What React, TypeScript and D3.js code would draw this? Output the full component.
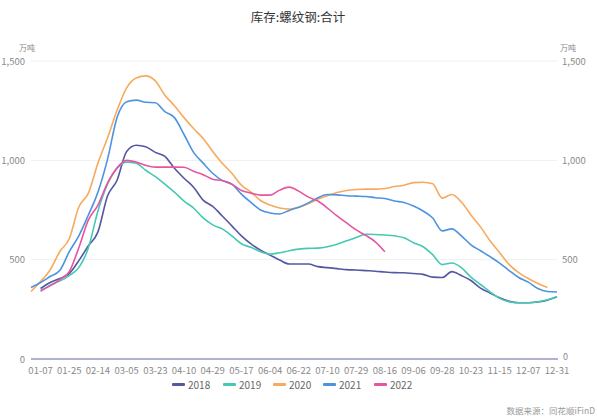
import React from "react";
import * as d3 from "d3";

const categories = [
  "01-01","01-07","01-13","01-19","01-25","02-01","02-07","02-14","02-20","02-27",
  "03-05","03-11","03-17","03-23","03-29","04-04","04-10","04-17","04-23","04-29",
  "05-05","05-11","05-17","05-23","05-29","06-04","06-10","06-16","06-22","06-28",
  "07-04","07-10","07-16","07-23","07-29","08-04","08-10","08-16","08-23","08-30",
  "09-06","09-13","09-21","09-28","10-06","10-15","10-23","10-31","11-08","11-15",
  "11-22","11-30","12-07","12-15","12-23","12-31",
];
const tickLabels = [
  "01-07","01-25","02-14","03-05","03-23","04-10","04-29","05-17","06-04","06-22",
  "07-10","07-29","08-16","09-06","09-28","10-23","11-15","12-07","12-31",
];
const yTicks = [0, 500, 1000, 1500];

type V = number | null;
const s2018: V[] = [
  null,355,385,405,430,495,570,640,820,900,
  1045,1076,1068,1040,1020,960,910,865,800,768,
  720,670,620,580,548,523,498,478,478,478,
  465,460,455,450,448,445,442,438,435,434,
  430,426,412,410,440,420,395,357,332,308,
  290,283,283,287,296,313,
];
const s2019: V[] = [
  null,340,372,392,420,460,560,745,880,960,
  991,985,950,918,880,840,795,760,710,675,
  655,620,580,562,540,528,535,545,553,557,
  558,565,578,595,612,628,627,624,620,610,
  585,565,525,475,483,460,412,375,338,305,
  288,283,283,288,298,315,
];
const s2020: V[] = [
  340,390,448,540,605,765,835,986,1112,1252,
  1365,1415,1425,1400,1328,1275,1215,1160,1110,1045,
  985,935,875,840,798,775,760,755,764,782,
  805,822,838,848,853,855,855,858,868,875,
  888,890,882,810,828,790,725,665,595,535,
  475,435,405,380,360,null,
];
const s2021: V[] = [
  360,385,415,445,540,620,725,840,1005,1215,
  1295,1303,1292,1290,1245,1215,1130,1040,986,935,
  898,880,830,788,750,735,730,748,764,786,
  812,828,826,822,820,818,812,808,795,788,
  770,745,710,645,655,620,575,545,515,483,
  445,410,387,355,340,337,
];
const s2022: V[] = [
  null,345,368,400,440,560,700,775,885,962,
  1000,992,975,966,966,966,965,945,928,905,
  898,880,848,835,825,825,850,865,845,815,
  795,760,720,685,650,622,590,540,
];

const seriesNames = ["2018", "2019", "2020", "2021", "2022"];
const seriesData = [s2018, s2019, s2020, s2021, s2022];
const colors = ["#5457a3", "#45c9b3", "#f8aa5c", "#4e93e0", "#e6559f"];

const W = 597;
const H = 418;
const margin = { left: 31, right: 40, top: 61, bottom: 59 };

export default function App() {
  const x = d3
    .scalePoint<string>()
    .domain(categories)
    .range([margin.left, W - margin.right]);
  const y = d3
    .scaleLinear()
    .domain([0, 1500])
    .range([H - margin.bottom, margin.top]);

  const font = "'Microsoft YaHei', 'Noto Sans CJK SC', Arial, sans-serif";

  const line = (data: V[]) =>
    d3
      .line<V>()
      .defined((d) => d !== null)
      .x((_, i) => x(categories[i]) as number)
      .y((d) => y(d as number))
      .curve(d3.curveMonotoneX)(data) || "";

  const legendX = [172, 223, 273, 323, 374];

  return (
    <svg
      width={W}
      height={H}
      style={{ position: "absolute", left: 0, top: 0, background: "#fff" }}
      fontFamily={font}
    >
      <text x={298} y={22} textAnchor="middle" fontSize={12.5} fill="#333">
        库存:螺纹钢:合计
      </text>
      <text x={27} y={51} textAnchor="middle" fontSize={8} fill="#888">
        万吨
      </text>
      <text x={568} y={51} textAnchor="middle" fontSize={8} fill="#888">
        万吨
      </text>
      {yTicks.map((t) => (
        <g key={t}>
          {t > 0 && (
            <line
              x1={margin.left}
              x2={W - margin.right}
              y1={y(t)}
              y2={y(t)}
              stroke="#efefef"
              strokeWidth={1}
            />
          )}
          <text
            x={25}
            y={y(t) + 3.5}
            textAnchor="end"
            fontSize={9.5}
            fill="#8a8a8a"
          >
            {d3.format(",")(t)}
          </text>
          <text
            x={t === 0 ? 563 : 562}
            y={y(t) + (t === 0 ? 1 : 3.5)}
            textAnchor="start"
            fontSize={t === 0 ? 9 : 9.5}
            fill="#8a8a8a"
          >
            {d3.format(",")(t)}
          </text>
        </g>
      ))}
      <line
        x1={margin.left}
        x2={W - margin.right + 1}
        y1={y(0)}
        y2={y(0)}
        stroke="#aeb1cf"
        strokeWidth={2}
      />
      {tickLabels.map((t) => (
        <text
          key={t}
          x={x(t) as number}
          y={374}
          textAnchor="middle"
          fontSize={9.5}
          fill="#8a8a8a"
        >
          {t}
        </text>
      ))}
      {seriesData.map((d, i) => (
        <path
          key={seriesNames[i]}
          d={line(d)}
          fill="none"
          stroke={colors[i]}
          strokeWidth={1.6}
          strokeLinejoin="round"
        />
      ))}
      {seriesNames.map((n, i) => (
        <g key={n}>
          <rect x={legendX[i]} y={383} width={13} height={3} rx={1} fill={colors[i]} />
          <text x={legendX[i] + 16} y={388.5} fontSize={10} fill="#666">
            {n}
          </text>
        </g>
      ))}
      <text x={595} y={414} textAnchor="end" fontSize={8.5} fill="#999">
        数据来源：同花顺iFinD
      </text>
    </svg>
  );
}
